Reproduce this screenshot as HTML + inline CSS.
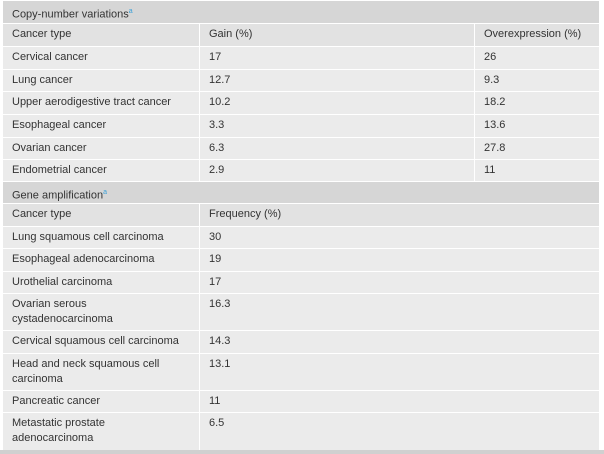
<!DOCTYPE html>
<html><head><meta charset="utf-8"><style>
body{margin:0;width:604px;height:454px;background:#fff;font-family:"Liberation Sans",sans-serif;font-size:11px;color:#333;overflow:hidden;position:relative}
.r{position:absolute;left:3px;width:596px;}
.c{position:absolute;top:0;bottom:0;background:#ebebeb;padding:3px 0 0 9px;box-sizing:border-box;line-height:15px}
.t{background:#d6d6d6}
.h{background:#e2e2e2}
sup{color:#3aa0d8;font-size:7px}
#strip{position:absolute;left:0;top:450px;width:604px;height:4px;background:#d0d0d0}
</style></head><body>
<div id="tbl"></div>
<div id="strip"></div>
<script>
const rows=[
 ["t",0,23,["Copy-number variations<sup>a</sup>"]],
 ["h",23,46,["Cancer type","Gain (%)","Overexpression (%)"]],
 ["d",46,69,["Cervical cancer","17","26"]],
 ["d",69,91,["Lung cancer","12.7","9.3"]],
 ["d",91,114,["Upper aerodigestive tract cancer","10.2","18.2"]],
 ["d",114,137,["Esophageal cancer","3.3","13.6"]],
 ["d",137,159,["Ovarian cancer","6.3","27.8"]],
 ["d",159,181,["Endometrial cancer","2.9","11"]],
 ["t",181,203,["Gene amplification<sup>a</sup>"]],
 ["h",203,226,["Cancer type","Frequency (%)"]],
 ["d",226,248,["Lung squamous cell carcinoma","30"]],
 ["d",248,271,["Esophageal adenocarcinoma","19"]],
 ["d",271,293,["Urothelial carcinoma","17"]],
 ["d",293,330,["Ovarian serous<br>cystadenocarcinoma","16.3"]],
 ["d",330,353,["Cervical squamous cell carcinoma","14.3"]],
 ["d",353,390,["Head and neck squamous cell<br>carcinoma","13.1"]],
 ["d",390,412,["Pancreatic cancer","11"]],
 ["d",412,450,["Metastatic prostate<br>adenocarcinoma","6.5"]]
];
const tbl=document.getElementById('tbl');
rows.forEach((r,i)=>{
 const row=document.createElement('div');
 
 
 row.className='r';
 row.style.top=(r[1]+1)+'px';row.style.height=(r[2]-r[1]-1)+'px';
 const cells=r[3];
 let bounds;
 if(cells.length==1)bounds=[[0,596]];
 else if(cells.length==2)bounds=[[0,196],[197,596]];
 else bounds=[[0,196],[197,471],[472,596]];
 cells.forEach((txt,j)=>{
  const c=document.createElement('div');
  
  
  c.className='c'+(r[0]=='t'?' t':r[0]=='h'?' h':'');
  c.style.left=bounds[j][0]+'px';c.style.width=(bounds[j][1]-bounds[j][0])+'px';
  c.innerHTML=txt;
  row.appendChild(c);
 });
 tbl.appendChild(row);
});
</script>
</body></html>
